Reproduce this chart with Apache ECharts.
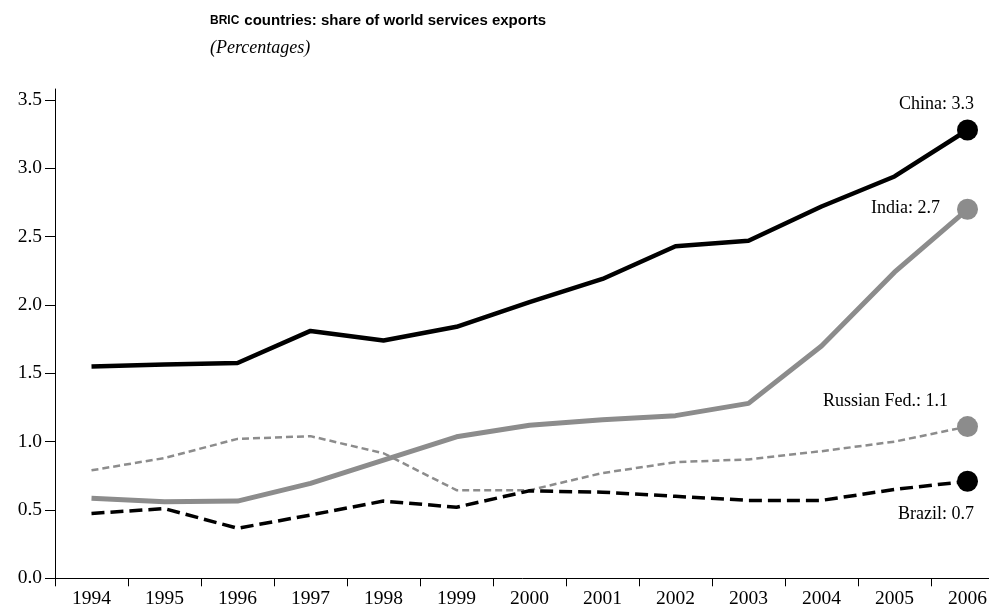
<!DOCTYPE html>
<html>
<head>
<meta charset="utf-8">
<script src="https://cdn.jsdelivr.net/npm/echarts@6/dist/echarts.min.js"></script>
<style>
    html, body {margin: 0; padding: 0; background: #fff;}
    #chart {width: 989px; height: 613px;}
</style>
</head>
<body>
<div id="chart"></div>
<script>
// values, per cent of world services exports
var years = ['1994', '1995', '1996', '1997', '1998', '1999', '2000', '2001', '2002', '2003', '2004', '2005', '2006'];
var china = [1.55, 1.565, 1.575, 1.81, 1.74, 1.84, 2.02, 2.19, 2.43, 2.47, 2.72, 2.94, 3.28];
var india = [0.585, 0.56, 0.565, 0.695, 0.865, 1.035, 1.12, 1.16, 1.19, 1.28, 1.70, 2.24, 2.70];
var russia = [0.79, 0.88, 1.02, 1.04, 0.915, 0.645, 0.645, 0.77, 0.85, 0.87, 0.93, 1.00, 1.11];
var brazil = [0.475, 0.51, 0.366, 0.463, 0.565, 0.52, 0.64, 0.63, 0.60, 0.57, 0.57, 0.65, 0.71];
var yTicks = [0, 0.5, 1.0, 1.5, 2.0, 2.5, 3.0, 3.5];

var serif = "'Liberation Serif', 'Times New Roman', serif";
var grey = '#8c8c8c';

function with_end_label(values, text, pos) {
    // only the 2006 point gets a dot and its label
    return values.map(function (v, i) {
        if (i !== values.length - 1) return v;
        return {
            value: v,
            label: {
                show: true, formatter: text, position: pos,
                align: 'right', verticalAlign: 'middle',
                fontFamily: serif, fontSize: 18, color: '#000'
            }
        };
    });
}

function make_series(name, values, color, width, dash, text, pos) {
    return {
        name: name,
        type: 'line',
        data: with_end_label(values, text, pos),
        symbol: 'circle',
        symbolSize: function (v, params) {return params.dataIndex === values.length - 1 ? 21 : 0;},
        showAllSymbol: true,
        itemStyle: {color: color},
        lineStyle: {color: color, width: width, type: dash},
        emphasis: {disabled: true},
        animation: false
    };
}

var chart = echarts.init(document.getElementById('chart'));
chart.setOption({
    backgroundColor: '#fff',
    title: {
        left: 205,
        top: 7,
        itemGap: 9,
        text: '{s|BRIC} {b|countries: share of world services exports}',
        textStyle: {
            rich: {
                s: {fontFamily: "'Liberation Sans', Arial, sans-serif", fontWeight: 'bold', fontSize: 12, color: '#000'},
                b: {fontFamily: "'Liberation Sans', Arial, sans-serif", fontWeight: 'bold', fontSize: 15, color: '#000'}
            }
        },
        subtext: '(Percentages)',
        subtextStyle: {fontFamily: serif, fontStyle: 'italic', fontSize: 18, color: '#000'}
    },
    grid: {left: 55, top: 89, width: 949, height: 489.3, containLabel: false, outerBoundsMode: 'none'},
    xAxis: {
        type: 'category',
        data: years,
        boundaryGap: true,
        axisLine: {show: true, lineStyle: {color: '#000', width: 1}},
        axisTick: {show: true, length: 8, alignWithLabel: false, lineStyle: {color: '#000'}},
        axisLabel: {fontFamily: serif, fontSize: 19.5, color: '#000', margin: 11, interval: 0},
        splitLine: {show: false}
    },
    yAxis: {
        type: 'value',
        min: 0,
        max: 3.58,
        axisLine: {show: true, lineStyle: {color: '#000', width: 1}},
        axisTick: {show: true, length: 10, customValues: yTicks, lineStyle: {color: '#000'}},
        axisLabel: {
            customValues: yTicks,
            fontFamily: serif, fontSize: 19.5, color: '#000', margin: 13,
            formatter: function (v) {return v.toFixed(1);}
        },
        splitLine: {show: false}
    },
    series: [
        make_series('Russian Fed.', russia, grey, 2.5, [7, 4], 'Russian Fed.: 1.1', [-9, -15]),
        make_series('India', india, grey, 5, 'solid', 'India: 2.7', [-17, 9]),
        make_series('China', china, '#000', 4.5, 'solid', 'China: 3.3', [17, -15]),
        make_series('Brazil', brazil, '#000', 3.5, [13, 6], 'Brazil: 0.7', [17, 44])
    ]
});
</script>
</body>
</html>
